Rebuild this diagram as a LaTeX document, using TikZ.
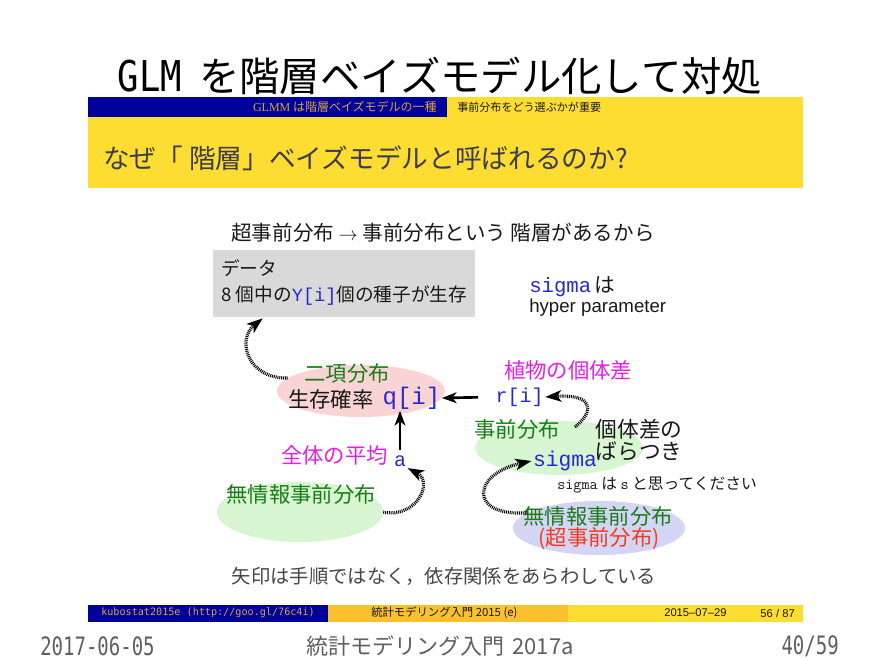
\documentclass[tikz,border=0pt]{standalone}
\usepackage{fontspec}
\usepackage{graphicx}
\usetikzlibrary{arrows.meta,shapes.geometric,calc}
\setmainfont{Noto Sans CJK JP}
\newfontfamily\codef{Liberation Mono}
\newfontfamily\arialf{Liberation Sans}
\newfontfamily\timesf{Liberation Serif}
\newfontfamily\dmono{DejaVu Sans Mono}
\newcommand\fsz[1]{\fontsize{#1}{#1}\selectfont}

\definecolor{navy}{RGB}{0,0,155}
\definecolor{gold}{RGB}{215,165,60}
\definecolor{bary}{RGB}{253,221,50}
\definecolor{baro}{RGB}{250,192,45}
\definecolor{pinkfill}{RGB}{250,212,212}
\definecolor{greenfill}{RGB}{214,245,208}
\definecolor{lavfill}{RGB}{212,212,245}
\definecolor{grn}{RGB}{25,125,25}
\definecolor{mag}{RGB}{230,30,230}
\definecolor{codeblue}{RGB}{40,40,215}
\definecolor{redor}{RGB}{240,60,30}
\definecolor{boxgray}{RGB}{217,217,217}
\definecolor{titlegray}{RGB}{60,60,75}
\definecolor{notegray}{RGB}{70,70,70}
\definecolor{pagegray}{RGB}{95,95,95}
\definecolor{ink}{RGB}{25,25,25}

\tikzset{
  txt/.style={inner sep=0pt, text=ink},
  lbl/.style={inner sep=0pt, font=\fsz{16pt}},
  code/.style={inner sep=1pt, text=codeblue},
  blob/.style={ellipse, inner sep=0pt, draw=none},
  solidarrow/.style={line width=2pt, draw=black,
    -{Stealth[length=11pt,width=8pt,inset=3pt]}},
  dotarrow/.style={line width=2.4pt, draw=black, dash pattern=on 0.7pt off 0.7pt,
    -{Stealth[length=12pt,width=8.5pt,inset=3pt]}},
}

\begin{document}
\begin{tikzpicture}[x=0.75pt,y=-0.75pt]
\useasboundingbox (0,0) rectangle (882,660);
\fill[white] (0,0) rectangle (882,660);

% page title
\node[txt, text=black, font=\fsz{30.3pt}] (title) at (440,76)
  {{\dmono\scalebox{0.88}[1.05]{GLM}}\hspace{13pt}を階層ベイズモデル化して対処};

% slide header bars
\fill[navy] (88,97) rectangle (447,117);
\fill[bary] (447,97) rectangle (803,117);
\fill[bary] (88,117) rectangle (803,188);
\node[txt, text=gold, anchor=east, font=\fsz{9pt}] (hdrleft) at (437,107)
  {{\timesf GLMM} は階層ベイズモデルの一種};
\node[txt, anchor=west, font=\fsz{8.3pt}] (hdrright) at (457,107)
  {事前分布をどう選ぶかが重要};
\node[txt, text=titlegray, anchor=west, font=\fsz{20pt}] (frametitle) at (103,158)
  {なぜ「 階層」ベイズモデルと呼ばれるのか?};

% heading line
\node[txt, font=\fsz{15.4pt}] (heading) at (443,233)
  {超事前分布 $\rightarrow$ 事前分布という 階層があるから};

% data box
\node[fill=boxgray, minimum width=196.5pt, minimum height=50.25pt, inner sep=0pt] (data) at (344,283.5) {};
\node[txt, anchor=west, font=\fsz{14pt}] (datatitle) at (221,268) {データ};
\node[txt, anchor=west, font=\fsz{14pt}] (datatext) at (221,296)
  {8 個中の{\codef\color{codeblue}Y[i]}個の種子が生存};

% hyper parameter note
\node[txt, anchor=west, font=\fsz{15.5pt}] (hypnote) at (529,287)
  {{\codef\color{codeblue}sigma}\,は};
\node[txt, anchor=west, font=\arialf\fsz{14pt}] (hypnote2) at (529,308) {hyper parameter};

% ellipses
\node[blob, fill=pinkfill, minimum width=126pt, minimum height=39pt] (binom) at (361,391) {};
\node[blob, fill=greenfill, minimum width=124.5pt, minimum height=45pt] (prior1) at (300,512) {};
\node[blob, fill=greenfill, minimum width=126pt, minimum height=40.5pt] (prior2) at (559,448) {};
\node[blob, fill=lavfill, minimum width=129pt, minimum height=40.5pt] (hyper) at (599,528) {};

% binomial node texts
\node[lbl, text=grn] (binomlbl) at (347,373) {二項分布};
\node[lbl, text=ink, anchor=west] (survival) at (288,399) {生存確率};
\node[code, anchor=west, font=\codef\fsz{18pt}] (q) at (381,398) {q[i]};

% overall mean
\node[lbl, text=mag, anchor=east] (meanlbl) at (388,455) {全体の平均};
\node[code, font=\codef\fsz{15pt}] (a) at (400,461) {a};
\node[lbl, text=grn] (prior1lbl) at (301,494) {無情報事前分布};

% individual differences
\node[lbl, text=mag] (indivlbl) at (568,370) {植物の個体差};
\node[code, anchor=west, font=\codef\fsz{15pt}] (r) at (494,397) {r[i]};
\node[lbl, text=grn] (prior2lbl) at (517,429) {事前分布};
\node[code, font=\codef\fsz{16pt}] (sigma) at (565,461) {sigma};
\node[txt, font=\fsz{16.3pt}] (spread1) at (639,429) {個体差の};
\node[txt, font=\fsz{16.3pt}] (spread2) at (639,451) {ばらつき};
\node[txt, anchor=west, font=\fsz{11.8pt}] (snote) at (557,485)
  {{\ttfamily sigma} は {\ttfamily s} と思ってください};

% hyperprior
\node[lbl, text=grn] (hyperlbl) at (598,516) {無情報事前分布};
\node[lbl, text=redor] (hyperlbl2) at (599,539) {(超事前分布)};

% bottom remark
\node[txt, text=notegray, font=\fsz{14.5pt}] (remark) at (444,576)
  {矢印は手順ではなく，依存関係をあらわしている};

% dependency arrows
\draw[solidarrow, shorten <=12pt] (r.west) -- (q.east);
\draw[solidarrow, shorten <=3pt] (a.north) -- (a.north |- q.south);
\draw[dotarrow] (binom.170) .. controls (248,379) and (236,340) .. ($(data.south west)+(50,1)$);
\draw[dotarrow] (prior1.east) .. controls (416,519) and (434,482) .. (a.south east);
\draw[dotarrow] ($(prior2.center)+(16,-21)$) .. controls (596,410) and (592,394) .. (r.east);
\draw[dotarrow] (hyper.168) .. controls (468,517) and (472,474) .. (sigma.west);

% slide footer bar
\fill[navy] (88,605) rectangle (328,622);
\fill[baro] (328,605) rectangle (568,622);
\fill[bary] (568,605) rectangle (803,622);
\node[txt, text=gold, anchor=west, font=\dmono\fsz{7.6pt}] (footauthor) at (101,613)
  {kubostat2015e (http://goo.gl/76c4i)};
\node[txt, anchor=west, font=\fsz{8.5pt}] (foottitle) at (371,613)
  {統計モデリング入門 2015 (e)};
\node[txt, anchor=west, font=\arialf\fsz{8.4pt}] (footdate) at (664,613) {2015–07–29};
\node[txt, anchor=east, font=\arialf\fsz{8.4pt}] (footpage) at (795,613) {56 / 87};

% page footer
\node[txt, text=pagegray, anchor=west, font=\dmono\fsz{19pt}] (pgdate) at (40,646)
  {\scalebox{0.75}[1]{2017-06-05}};
\node[txt, text=pagegray, font=\fsz{16.5pt}] (pgtitle) at (440,646) {統計モデリング入門\hspace{6pt}2017a};
\node[txt, text=pagegray, anchor=east, font=\dmono\fsz{19pt}] (pgnum) at (839,646)
  {\scalebox{0.75}[1]{40/59}};
\end{tikzpicture}
\end{document}
